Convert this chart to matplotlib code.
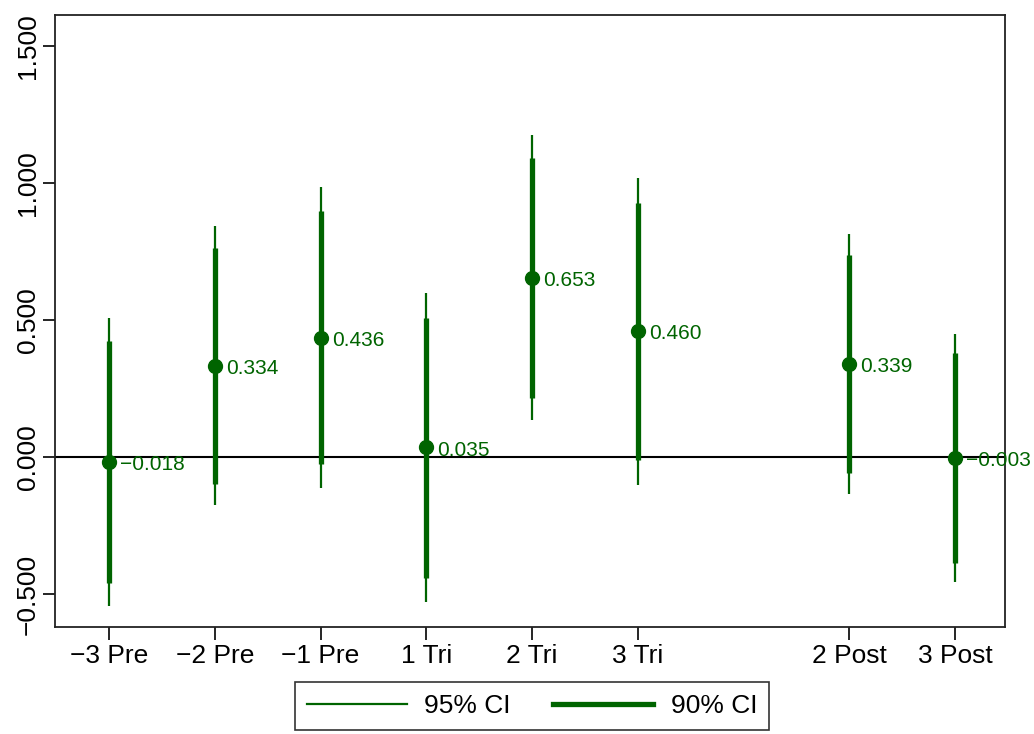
import matplotlib.pyplot as plt
from matplotlib.lines import Line2D

plt.rcParams['font.family'] = ['Liberation Sans', 'DejaVu Sans']

# categories and their positions on the x axis (gap before the Post group)
labels = ['\u22123 Pre', '\u22122 Pre', '\u22121 Pre', '1 Tri', '2 Tri', '3 Tri', '2 Post', '3 Post']
pos = [1, 2, 3, 4, 5, 6, 8, 9]

# point estimates
coef = [-0.018, 0.334, 0.436, 0.035, 0.653, 0.460, 0.339, -0.003]

# 95% confidence interval
lo95 = [-0.544, -0.175, -0.113, -0.529, 0.135, -0.102, -0.135, -0.456]
hi95 = [0.507, 0.843, 0.985, 0.599, 1.175, 1.018, 0.814, 0.449]

# 90% confidence interval
lo90 = [-0.460, -0.099, -0.026, -0.442, 0.215, -0.011, -0.058, -0.387]
hi90 = [0.423, 0.763, 0.898, 0.507, 1.091, 0.927, 0.737, 0.380]

green = '#006400'

fig = plt.figure(figsize=(10.34, 7.34), dpi=100)
ax = fig.add_axes([55 / 1034, 1 - 627 / 734, 950 / 1034, 612 / 734])

ax.axhline(0, color='black', lw=1.5, zorder=1)

ax.vlines(pos, lo95, hi95, color=green, lw=1.6, zorder=2)
ax.vlines(pos, lo90, hi90, color=green, lw=3.8, zorder=3)
ax.plot(pos, coef, 'o', color=green, ms=10, zorder=4)

for x, y in zip(pos, coef):
    txt = f'{y:.3f}'.replace('-', '\u2212')
    ax.annotate(txt, (x, y), xytext=(8, -2), textcoords='offset points',
                va='center', ha='left', color=green, fontsize=15,
                annotation_clip=False, zorder=5)

ax.set_xlim(0.49, 9.47)
ax.set_ylim(-0.62, 1.613)
ax.set_xticks(pos)
ax.set_xticklabels(labels)
yt = [-0.5, 0, 0.5, 1.0, 1.5]
ax.set_yticks(yt)
ax.set_yticklabels([f'{v:.3f}'.replace('-', '\u2212') for v in yt],
                   rotation=90, va='center')
ax.tick_params(labelsize=19, length=9, width=1.2, color='black')
ax.tick_params(axis='y', pad=2)
for s in ax.spines.values():
    s.set_linewidth(1.3)
    s.set_color('#222222')

handles = [Line2D([], [], color=green, lw=1.6),
           Line2D([], [], color=green, lw=3.8)]
leg = fig.legend(handles, ['95% CI', '90% CI'], ncol=2, loc='center',
                 bbox_to_anchor=(532 / 1034, 1 - 706 / 734), fontsize=19,
                 fancybox=False, edgecolor='#333333', framealpha=1,
                 handlelength=3.8, handletextpad=0.65, columnspacing=1.6,
                 borderpad=0.45)
leg.get_frame().set_linewidth(1.2)

fig.savefig('out.png', dpi=100)
